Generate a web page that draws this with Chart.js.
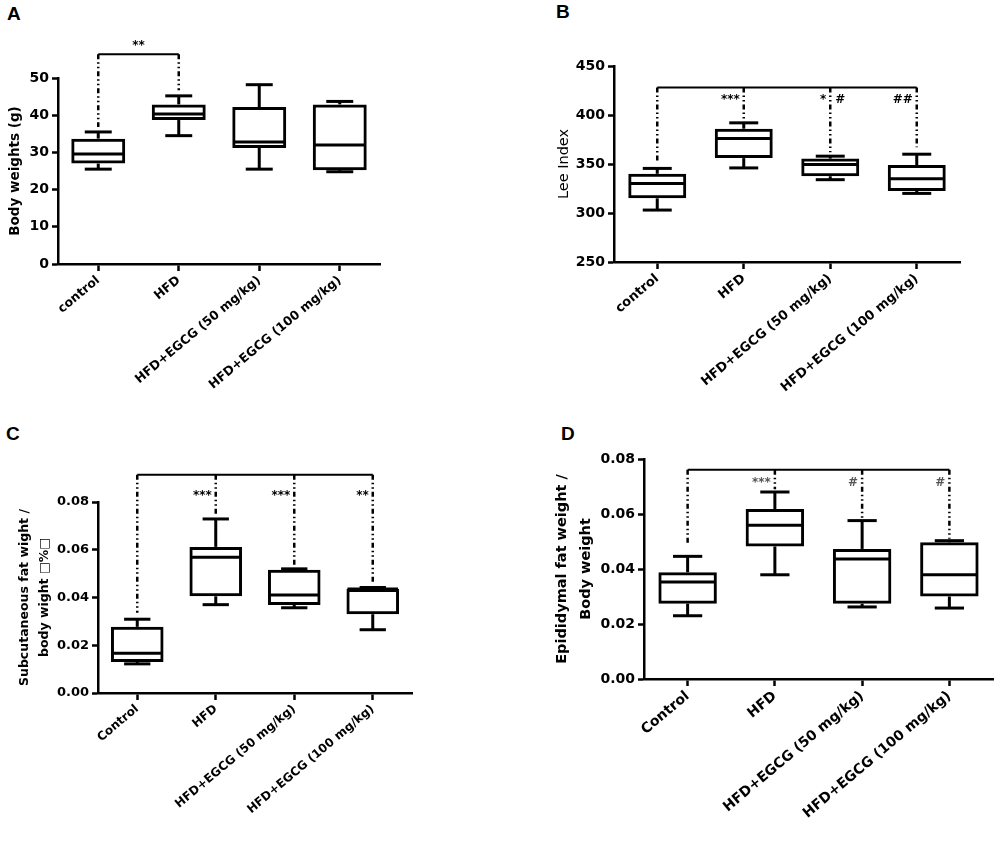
<!DOCTYPE html>
<html>
<head>
<meta charset="utf-8">
<script src="https://cdn.jsdelivr.net/npm/chart.js@4"></script>
<style>
  body { margin: 0; background: #fff; width: 1000px; height: 842px; position: relative; overflow: hidden; }
  canvas { position: absolute; }
  .tag { position: absolute; font: bold 19px "Liberation Sans", Arial, sans-serif; color: #000; }
</style>
</head>
<body>
<div class="tag" style="left:7px;top:3px">A</div>
<div class="tag" style="left:556px;top:1px">B</div>
<div class="tag" style="left:6px;top:423px">C</div>
<div class="tag" style="left:561px;top:423px">D</div>
<canvas id="chartA" width="500" height="410" style="left:0;top:0"></canvas>
<canvas id="chartB" width="500" height="410" style="left:500px;top:0"></canvas>
<canvas id="chartC" width="500" height="432" style="left:0;top:410px"></canvas>
<canvas id="chartD" width="500" height="432" style="left:500px;top:410px"></canvas>
<script>
// groups
const groupsLower = ['control', 'HFD', 'HFD+EGCG (50 mg/kg)', 'HFD+EGCG (100 mg/kg)'];
const groupsUpper = ['Control', 'HFD', 'HFD+EGCG (50 mg/kg)', 'HFD+EGCG (100 mg/kg)'];

// A - body weights (g)
const bwMin = [25.5, 34.5, 25.5, 24.8];
const bwQ1 = [27.0, 38.7, 31.2, 25.2];
const bwMed = [29.6, 40.3, 32.8, 32.0];
const bwQ3 = [33.7, 42.9, 42.2, 42.9];
const bwMax = [35.5, 45.2, 48.2, 43.7];
const bwBracket = 56.4;
const bwDrop = [36.8, 46.7];
const bwSigCenter = '**';
const bwSigY = 58.6;

// B - Lee index
const leeMin = [303, 346, 334, 320];
const leeQ1 = [315, 356, 337.5, 322.5];
const leeMed = [330, 376, 349.5, 335];
const leeQ3 = [340, 386, 355.5, 349];
const leeMax = [345.5, 392, 358, 360];
const leeBracket = 428;
const leeDrop = [353, 394, 362, 367];
const leeSigLeft = ['', '***', '*', '##'];
const leeSigRight = ['', '', '#', ''];
const leeSigY = 415;

// C - subcutaneous fat / body weight
const subMin = [0.0122, 0.037, 0.0357, 0.0265];
const subQ1 = [0.013, 0.0405, 0.0369, 0.033];
const subMed = [0.0167, 0.0569, 0.041, 0.0436];
const subQ3 = [0.0277, 0.0612, 0.0516, 0.0436];
const subMax = [0.0309, 0.0729, 0.052, 0.0442];
const subBracket = 0.0914;
const subDrop = [0.0336, 0.075, 0.053, 0.0454];
const subSigLeft = ['', '***', '***', '**'];
const subSigY = 0.0825;

// D - epididymal fat / body weight
const epiMin = [0.023, 0.0379, 0.0262, 0.0258];
const epiQ1 = [0.0274, 0.0482, 0.0274, 0.030];
const epiMed = [0.0353, 0.0559, 0.0436, 0.0379];
const epiQ3 = [0.0388, 0.0618, 0.0473, 0.0497];
const epiMax = [0.0446, 0.068, 0.0576, 0.0503];
const epiBracket = 0.0761;
const epiDrop = [0.0485, 0.069, 0.058, 0.051];
const epiSigLeft = ['', '***', '#', '#'];
const epiSigY = 0.0714;

const FONT = '"DejaVu Sans", sans-serif';

// whiskers, medians, brackets and stars, all placed through the chart scales
const boxExtras = {
    id: 'boxExtras',
    afterDatasetsDraw(chart, args, o) {
        const ctx = chart.ctx;
        const y = chart.scales.y;
        const bars = chart.getDatasetMeta(0).data;
        ctx.save();
        ctx.strokeStyle = '#000';
        ctx.lineWidth = 3;
        bars.forEach((bar, i) => {
            const x = bar.x, w = bar.width;
            const hline = (v, half) => {
                const py = y.getPixelForValue(v);
                ctx.beginPath(); ctx.moveTo(x - half, py); ctx.lineTo(x + half, py); ctx.stroke();
            };
            const vline = (a, b) => {
                ctx.beginPath(); ctx.moveTo(x, y.getPixelForValue(a)); ctx.lineTo(x, y.getPixelForValue(b)); ctx.stroke();
            };
            hline(o.med[i], w / 2 - 1);
            vline(o.q3[i], o.max[i]);
            vline(o.q1[i], o.min[i]);
            hline(o.max[i], w / 4);
            hline(o.min[i], w / 4);
        });

        // bracket
        const by = y.getPixelForValue(o.bracket);
        const x0 = bars[o.from].x, x1 = bars[o.to].x;
        ctx.lineWidth = 2;
        ctx.beginPath(); ctx.moveTo(x0, by); ctx.lineTo(x1, by); ctx.stroke();
        ctx.lineWidth = 2.5;
        ctx.setLineDash([5, 3, 1.5, 3, 1.5, 3]);
        o.drop.forEach((v, k) => {
            const bx = bars[o.from + k].x;
            ctx.beginPath(); ctx.moveTo(bx, by); ctx.lineTo(bx, y.getPixelForValue(v)); ctx.stroke();
        });
        ctx.setLineDash([]);

        // significance marks
        ctx.fillStyle = o.markColor || '#000';
        ctx.font = 'bold ' + (o.markSize || 12) + 'px ' + FONT;
        ctx.textBaseline = 'middle';
        const sy = y.getPixelForValue(o.sigY);
        if (o.center) {
            ctx.textAlign = 'center';
            ctx.fillText(o.center, (x0 + x1) / 2, sy);
        }
        (o.left || []).forEach((t, i) => {
            if (!t) return;
            ctx.textAlign = 'right';
            ctx.fillText(t, bars[i].x - 4, sy);
        });
        (o.right || []).forEach((t, i) => {
            if (!t) return;
            ctx.textAlign = 'left';
            ctx.fillText(t, bars[i].x + 5, sy);
        });
        ctx.restore();
    }
};

function makePanel(id, p) {
    return new Chart(document.getElementById(id), {
        type: 'bar',
        data: {
            labels: p.labels,
            datasets: [{
                data: p.q1.map((v, i) => [v, p.q3[i]]),
                backgroundColor: 'rgba(255,255,255,0)',
                borderColor: '#000',
                borderWidth: 3,
                borderSkipped: false,
                barPercentage: 0.67,
                categoryPercentage: 1
            }]
        },
        options: {
            responsive: false,
            animation: false,
            devicePixelRatio: 1,
            layout: { padding: { top: p.top, right: p.right, left: 0, bottom: 0 } },
            plugins: {
                legend: { display: false },
                tooltip: { enabled: false },
                boxExtras: p.extras
            },
            scales: {
                x: {
                    afterFit: s => { s.height = p.xHeight; },
                    grid: { display: true, offset: false, drawOnChartArea: false, tickLength: 7, tickWidth: 2.5, tickColor: '#000' },
                    border: { display: true, color: '#000', width: 2.5 },
                    ticks: {
                        color: '#000', minRotation: p.rot, maxRotation: p.rot, padding: 2,
                        font: { family: FONT, weight: 'bold', size: p.xFont }
                    }
                },
                y: {
                    min: p.min, max: p.max,
                    afterFit: s => { s.width = p.yWidth; },
                    grid: { drawOnChartArea: false, tickLength: 6, tickWidth: 2.5, tickColor: '#000' },
                    border: { display: true, color: '#000', width: 2.5 },
                    ticks: {
                        stepSize: p.step, color: '#000', padding: 3,
                        font: { family: FONT, weight: 'bold', size: p.yFont },
                        callback: v => p.dec ? v.toFixed(p.dec) : v
                    },
                    title: {
                        display: true, text: p.title, color: '#000',
                        padding: { top: p.titlePad, bottom: 0 },
                        font: { family: FONT, weight: p.titleWeight, size: p.titleSize, lineHeight: p.titleLH }
                    }
                }
            }
        },
        plugins: [boxExtras]
    });
}

makePanel('chartA', {
    labels: groupsLower, q1: bwQ1, q3: bwQ3, min: 0, max: 50, step: 10, dec: 0,
    top: 78, right: 120, xHeight: 146, yWidth: 58, rot: 40, xFont: 12.5, yFont: 14,
    title: 'Body weights (g)', titlePad: 7, titleWeight: 'bold', titleSize: 13.5, titleLH: 1.2,
    extras: { min: bwMin, q1: bwQ1, med: bwMed, q3: bwQ3, max: bwMax,
        bracket: bwBracket, from: 0, to: 1, drop: bwDrop, center: bwSigCenter, sigY: bwSigY }
});

makePanel('chartB', {
    labels: groupsLower, q1: leeQ1, q3: leeQ3, min: 250, max: 450, step: 50, dec: 0,
    top: 66, right: 40, xHeight: 148, yWidth: 114, rot: 40, xFont: 13, yFont: 14,
    title: 'Lee Index', titlePad: 56, titleWeight: 'normal', titleSize: 14.5, titleLH: 1.2,
    extras: { min: leeMin, q1: leeQ1, med: leeMed, q3: leeQ3, max: leeMax,
        bracket: leeBracket, from: 0, to: 3, drop: leeDrop, left: leeSigLeft, right: leeSigRight, sigY: leeSigY }
});

makePanel('chartC', {
    labels: groupsUpper, q1: subQ1, q3: subQ3, min: 0, max: 0.08, step: 0.02, dec: 2,
    top: 92, right: 88, xHeight: 149, yWidth: 98, rot: 40, xFont: 12, yFont: 13,
    title: ['Subcutaneous fat wight /', 'body wight \u25A1%\u25A1'], titlePad: 15, titleWeight: 'bold', titleSize: 12.5, titleLH: 1.6,
    extras: { min: subMin, q1: subQ1, med: subMed, q3: subQ3, max: subMax,
        bracket: subBracket, from: 0, to: 3, drop: subDrop, left: subSigLeft, sigY: subSigY }
});

makePanel('chartD', {
    labels: groupsUpper, q1: epiQ1, q3: epiQ3, min: 0, max: 0.08, step: 0.02, dec: 2,
    top: 49, right: 7, xHeight: 163, yWidth: 144, rot: 40, xFont: 14, yFont: 14,
    title: ['Epididymal fat weight /', 'Body weight'], titlePad: 50, titleWeight: 'bold', titleSize: 14.5, titleLH: 1.65,
    extras: { min: epiMin, q1: epiQ1, med: epiMed, q3: epiQ3, max: epiMax,
        bracket: epiBracket, from: 0, to: 3, drop: epiDrop, left: epiSigLeft, sigY: epiSigY, markColor: '#555' }
});
</script>
</body>
</html>
